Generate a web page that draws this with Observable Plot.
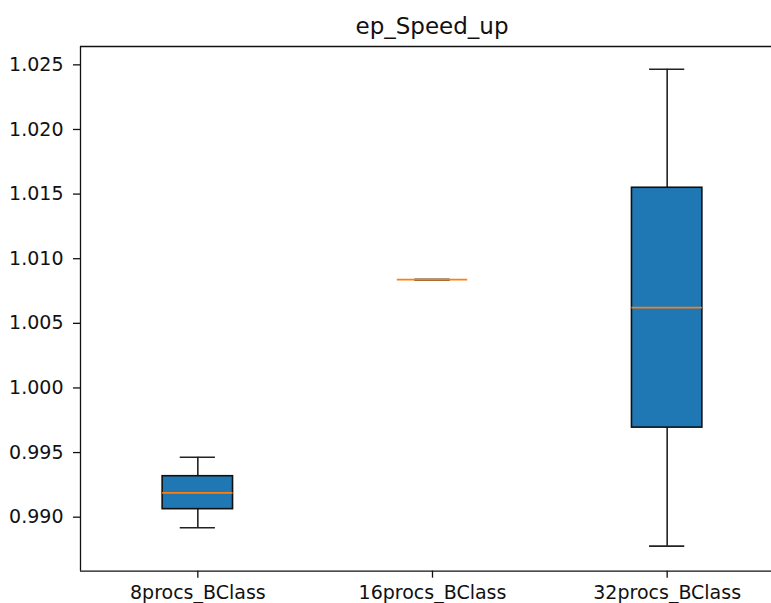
<!DOCTYPE html>
<html>
<head>
<meta charset="utf-8">
<script src="https://cdn.jsdelivr.net/npm/d3@7"></script>
<script src="https://cdn.jsdelivr.net/npm/@observablehq/plot@0.6"></script>
<style>
  html, body { margin: 0; padding: 0; background: #fff; overflow: hidden; }
  #title { height: 40px; box-sizing: border-box; padding-top: 13px; line-height: 27px;
           padding-left: 80px; width: 784px; text-align: center;
           font-family: "DejaVu Sans", sans-serif; font-size: 23px; color: #111; }
</style>
</head>
<body>
<div id="title">ep_Speed_up</div>
<div id="chart"></div>
<script>
const categories = ["8procs_BClass", "16procs_BClass", "32procs_BClass"];
const positions = [1, 2, 3];
const whiskerLow  = [0.98918, 1.00838, 0.98776];
const q1          = [0.99062, 1.00838, 0.99693];
const median      = [0.99188, 1.00838, 1.00622];
const q3          = [0.99317, 1.00838, 1.01549];
const whiskerHigh = [0.99464, 1.00838, 1.02466];
const yTicks = [0.990, 0.995, 1.000, 1.005, 1.010, 1.015, 1.020, 1.025];

const data = categories.map((c, i) => ({
  cat: c, pos: positions[i], lo: whiskerLow[i], q1: q1[i], med: median[i], q3: q3[i], hi: whiskerHigh[i]
}));
const boxHalf = 0.15, capHalf = 0.075;

const plot = Plot.plot({
  width: 771,
  height: 563,
  marginTop: 6,
  marginBottom: 32.3,
  marginLeft: 80,
  marginRight: -13,
  style: { fontFamily: "DejaVu Sans, sans-serif", fontSize: "19px", color: "#111", background: "#fff" },
  x: { domain: [0.5, 3.5], range: [80, 784] },
  y: { domain: [0.98582, 1.02642] },
  marks: [
    // whiskers
    Plot.ruleX(data, { x: "pos", y1: "q3", y2: "hi", stroke: "#222", strokeWidth: 1.6 }),
    Plot.ruleX(data, { x: "pos", y1: "lo", y2: "q1", stroke: "#222", strokeWidth: 1.6 }),
    // boxes
    Plot.rect(data, { x1: d => d.pos - boxHalf, x2: d => d.pos + boxHalf, y1: "q1", y2: "q3",
                      fill: "#1f77b4", stroke: "#111", strokeWidth: 1.6 }),
    // caps
    Plot.ruleY(data, { y: "hi", x1: d => d.pos - capHalf, x2: d => d.pos + capHalf, stroke: "#222", strokeWidth: 1.6 }),
    Plot.ruleY(data, { y: "lo", x1: d => d.pos - capHalf, x2: d => d.pos + capHalf, stroke: "#222", strokeWidth: 1.6 }),
    // medians
    Plot.ruleY(data, { y: "med", x1: d => d.pos - boxHalf, x2: d => d.pos + boxHalf, stroke: "#ff7f0e", strokeWidth: 1.8 }),
    // spines
    Plot.ruleX([0.5], { stroke: "#111", strokeWidth: 1.3 }),
    Plot.ruleY([0.98582, 1.02642], { x1: 0.5, x2: 3.5, stroke: "#111", strokeWidth: 1.3 }),
    Plot.axisY({ ticks: yTicks, tickFormat: d3.format(".3f"), tickSize: 7, tickPadding: 10, label: null, stroke: "#111", strokeWidth: 1.3 }),
    Plot.axisX({ ticks: positions, tickFormat: d => categories[d - 1], tickSize: 7, tickPadding: 7, label: null, stroke: "#111", strokeWidth: 1.3 })
  ]
});
document.getElementById("chart").appendChild(plot);
</script>
</body>
</html>
